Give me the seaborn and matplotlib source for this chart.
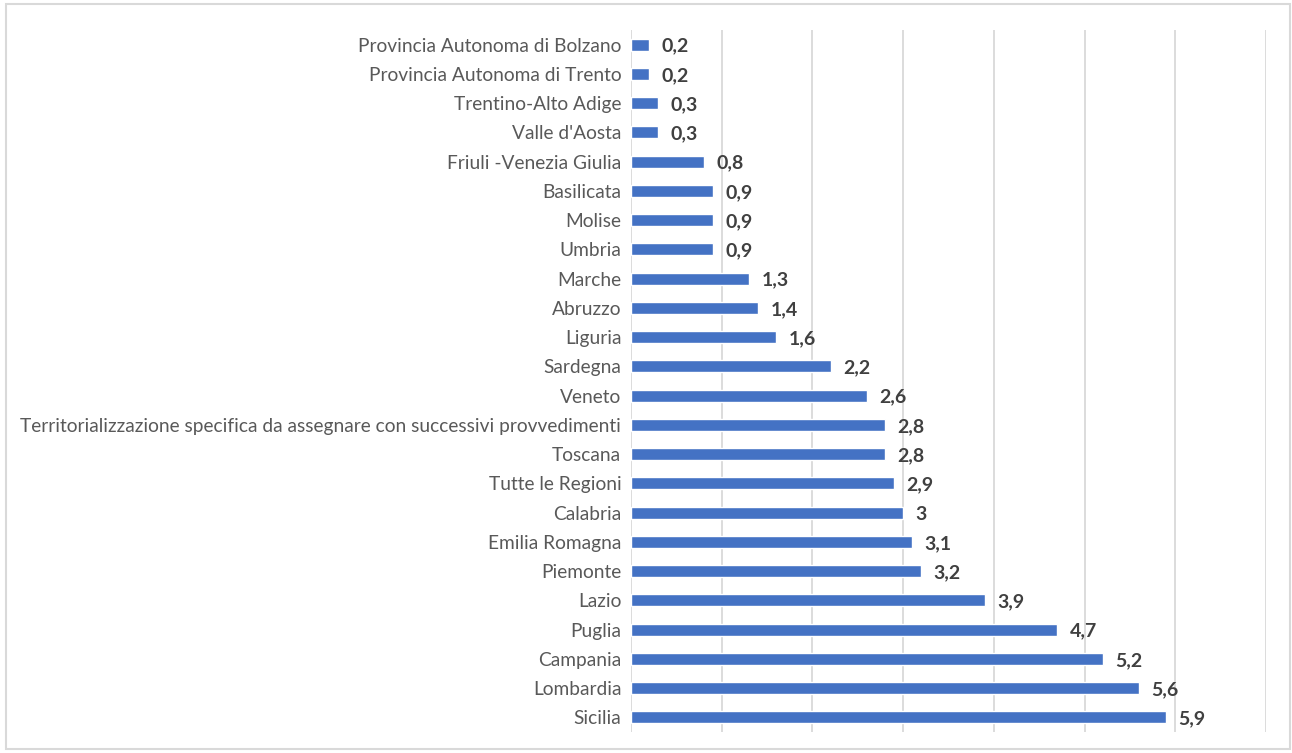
import matplotlib
matplotlib.use("Agg")
import matplotlib.pyplot as plt
import seaborn as sns
import pandas as pd
from matplotlib.patches import Rectangle

categories = [
    "Provincia Autonoma di Bolzano", "Provincia Autonoma di Trento", "Trentino-Alto Adige",
    "Valle d'Aosta", "Friuli -Venezia Giulia", "Basilicata", "Molise", "Umbria", "Marche",
    "Abruzzo", "Liguria", "Sardegna", "Veneto",
    "Territorializzazione specifica da assegnare con successivi provvedimenti",
    "Toscana", "Tutte le Regioni", "Calabria", "Emilia Romagna", "Piemonte", "Lazio",
    "Puglia", "Campania", "Lombardia", "Sicilia",
]
values = [0.2, 0.2, 0.3, 0.3, 0.8, 0.9, 0.9, 0.9, 1.3, 1.4, 1.6, 2.2, 2.6, 2.8,
          2.8, 2.9, 3.0, 3.1, 3.2, 3.9, 4.7, 5.2, 5.6, 5.9]
x_max = 7

df = pd.DataFrame({"cat": categories, "val": values})

sns.set_theme(style="white")
plt.rcParams["font.family"] = ["Lato", "DejaVu Sans"]

fig = plt.figure(figsize=(12.92, 7.53), dpi=100)
ax = fig.add_axes([631 / 1292, 1 - 732 / 753, (1266 - 631) / 1292, (732 - 30) / 753])

sns.barplot(data=df, x="val", y="cat", orient="h", color="#4472C4", width=0.41,
            saturation=1, ax=ax, zorder=3)

ax.set_xlim(0, x_max)
ax.set_ylim(len(categories) - 0.5, -0.5)
ax.set_xticks(range(0, x_max + 1))
ax.set_xticklabels([])
ax.grid(axis="x", color="#d9d9d9", linewidth=1.3, zorder=0)
ax.grid(axis="y", visible=False)
for s in ax.spines.values():
    s.set_visible(False)
ax.tick_params(axis="both", length=0)
ax.tick_params(axis="y", labelsize=13.8, labelcolor="#595959", pad=7)
ax.set_xlabel("")
ax.set_ylabel("")

for i, v in enumerate(values):
    lab = f"{v:g}".replace(".", ",")
    ax.annotate(lab, (v, i), xytext=(9, -1), textcoords="offset points",
                ha="left", va="center", fontsize=14, fontweight="bold", color="#404040")

fig.patches.append(Rectangle((6 / 1292, 4 / 753), (1290 - 6) / 1292, (749 - 4) / 753,
                             transform=fig.transFigure, fill=False, edgecolor="#d9d9d9",
                             linewidth=1.5, zorder=0))

fig.savefig("out.png", dpi=100, facecolor="white")
